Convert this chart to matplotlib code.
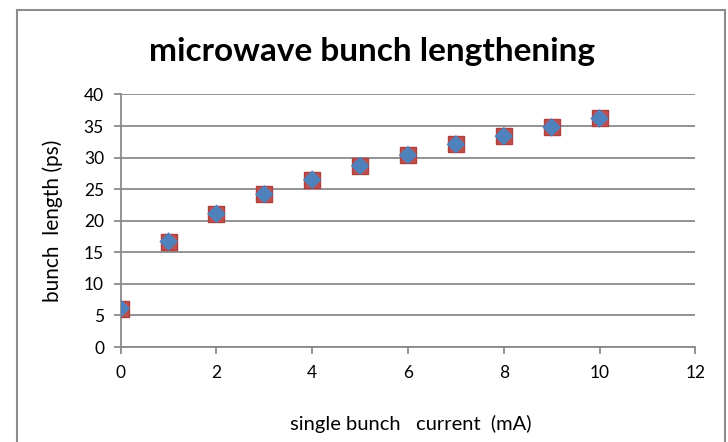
import matplotlib.pyplot as plt
from matplotlib.patches import Rectangle

# single bunch current (mA) vs measured bunch length (ps)
current_ma = [0, 1, 2, 3, 4, 5, 6, 7, 8, 9, 10]
bunch_length_ps = [6.1, 16.7, 21.1, 24.2, 26.5, 28.7, 30.4, 32.1, 33.4, 34.8, 36.2]

x_ticks = [0, 2, 4, 6, 8, 10, 12]
y_ticks = [0, 5, 10, 15, 20, 25, 30, 35, 40]

plt.rcParams['font.family'] = ['Lato', 'DejaVu Sans']

fig = plt.figure(figsize=(7.28, 4.42), dpi=100)
ax = fig.add_axes([0.1658, 0.2149, 0.7893, 0.5713])

# chart frame
fig.patches.append(Rectangle((17 / 728, -0.05), 708 / 728, 1.05 - 10 / 442,
                             transform=fig.transFigure, fill=False,
                             edgecolor='#8c8c8c', linewidth=1.5))

# red squares with blue diamonds on top
ax.scatter(current_ma, bunch_length_ps, marker='s', s=120, color='#c0504d',
           edgecolors='#b04040', linewidths=1, zorder=3)
ax.scatter(current_ma, bunch_length_ps, marker='D', s=90, color='#4f81bd',
           edgecolors='none', zorder=4)

ax.set_xlim(0, 12)
ax.set_ylim(0, 40)
ax.set_xticks(x_ticks)
ax.set_yticks(y_ticks)
ax.grid(axis='y', color='#8a8a8a', linewidth=1.3)
ax.set_axisbelow(True)

for side in ['top', 'right']:
    ax.spines[side].set_visible(False)
for side in ['left', 'bottom']:
    ax.spines[side].set_color('#8a8a8a')
    ax.spines[side].set_linewidth(1.3)
ax.tick_params(axis='both', colors='#8a8a8a', labelcolor='black', labelsize=12.5,
               length=5, width=1.3)
ax.tick_params(axis='x', pad=8)
ax.tick_params(axis='y', pad=7)

ax.set_xlabel('single bunch   current  (mA)', fontsize=14.5)
ax.xaxis.set_label_coords(0.505, -0.268)
ax.set_ylabel('bunch  length (ps)', fontsize=15)
ax.yaxis.set_label_coords(-0.1, 0.5)
fig.suptitle('microwave bunch lengthening', fontsize=24, fontweight='bold',
             x=372 / 728, y=1 - 51 / 442, va='center')

plt.savefig('out.png', dpi=100)
